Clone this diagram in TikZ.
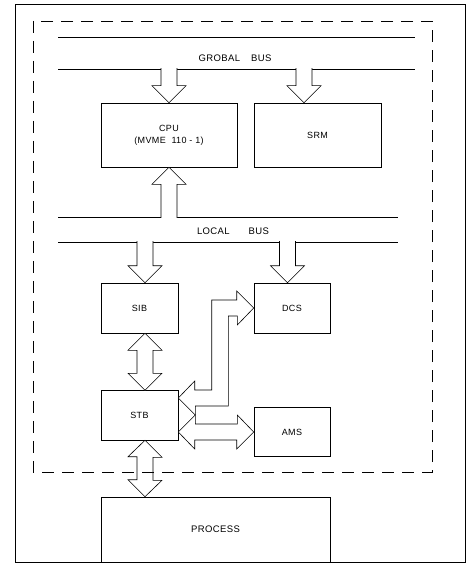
\documentclass[tikz,border=0pt]{standalone}
\usepackage{fontspec}
\setsansfont{Liberation Sans}[LetterSpace=4]
\usetikzlibrary{calc}

\begin{document}
\begin{tikzpicture}[x=1pt,y=-1pt, line width=0.6pt,
  blk/.style={draw,minimum width=#1,font=\sffamily\fontsize{9}{10}\selectfont,inner sep=1pt},
  fat/.style={draw,fill=white,line join=miter},
  lbl/.style={font=\sffamily\fontsize{9.5}{11}\selectfont}]
\useasboundingbox (0,0) rectangle (468,572);
% boxes
\node[blk=136pt,minimum height=64pt,align=center] (cpu) at (169,135) {CPU\\[2pt](MVME\ \ 110 - 1)};
\node[blk=127pt,minimum height=64pt] (srm) at (317.5,135) {SRM};
\node[blk=77pt,minimum height=50pt] (sib) at (139.5,308) {SIB};
\node[blk=76pt,minimum height=50pt] (dcs) at (292,308) {DCS};
\node[blk=77pt,minimum height=50pt] (stb) at (139.5,415) {STB};
\node[blk=76pt,minimum height=49pt] (ams) at (292,432) {AMS};
\node[blk=229pt,minimum height=65pt,lbl] (proc) at (215.5,529.5) {PROCESS};
% buses
\draw (58,37) -- (415,37);
\draw (58,69) -- (415,69);
\node[lbl] (gbus) at (235,58) {GROBAL\hspace{11pt}BUS};
\draw (58,217) -- (398,217);
\draw (58,242) -- (398,242);
\node[lbl] (lbus) at (233,231) {LOCAL\hspace{19pt}BUS};
% bus -> box arrows
\draw[fat] ($(cpu.north)+(-8,-34.5)$) -- ++(0,17.5) -- ++(-9,0) -- (cpu.north) -- ++(17,-17) -- ++(-9,0) -- ++(0,-17.5);
\coordinate (srmin) at ($(srm.north)+(-13.5,0)$);
\draw[fat] ($(srmin)+(-8,-34.5)$) -- ++(0,17.5) -- ++(-9,0) -- (srmin) -- ++(17,-17) -- ++(-9,0) -- ++(0,-17.5);
\draw[fat] ($(cpu.south)+(-8,50.5)$) -- ++(0,-33.5) -- ++(-9,0) -- (cpu.south) -- ++(17,17) -- ++(-9,0) -- ++(0,33.5);
\coordinate (sibin) at ($(sib.north)+(5.5,0)$);
\draw[fat] ($(sibin)+(-8,-41.5)$) -- ++(0,24.5) -- ++(-9,0) -- (sibin) -- ++(17,-17) -- ++(-9,0) -- ++(0,-24.5);
\coordinate (dcsin) at ($(dcs.north)+(-4.5,0)$);
\draw[fat] ($(dcsin)+(-8,-41.5)$) -- ++(0,24.5) -- ++(-9,0) -- (dcsin) -- ++(17,-17) -- ++(-9,0) -- ++(0,-24.5);
% two-way arrows
\coordinate (sibout) at ($(sib.south)+(5.5,0)$);
\draw[fat] (sibout) -- ++(17,17) -- ++(-9,0) -- ++(0,23) -- ++(9,0) -- ++(-17,17) -- ++(-17,-17) -- ++(9,0) -- ++(0,-23) -- ++(-9,0) -- cycle;
\coordinate (stbout) at ($(stb.south)+(5.5,0)$);
\draw[fat] (stbout) -- ++(17,17) -- ++(-9,0) -- ++(0,23) -- ++(9,0) -- (stbout |- proc.north) -- ++(-17,-17) -- ++(9,0) -- ++(0,-23) -- ++(-9,0) -- cycle;
\draw[fat] (dcs.west) -- ++(-17,-17) -- ++(0,9) -- ++(-25,0) -- ++(0,90) -- ++(-17,0) -- ++(0,-9)
  -- ($(stb.east)+(0,-17)$) -- ++(17,17) -- ++(0,-9) -- ++(33,0) -- ++(0,-90) -- ++(9,0) -- ++(0,9) -- cycle;
\draw[fat] ($(stb.east)+(0,17)$) -- ++(17,-17) -- ++(0,9) -- ++(42,0) -- ++(0,-9) -- (ams.west)
  -- ++(-17,17) -- ++(0,-9) -- ++(-42,0) -- ++(0,9) -- cycle;
% frames
\draw[dash pattern=on 12pt off 8pt] (33,21) rectangle (432,472);
\draw (15,4) rectangle (465,562);
\end{tikzpicture}
\end{document}
